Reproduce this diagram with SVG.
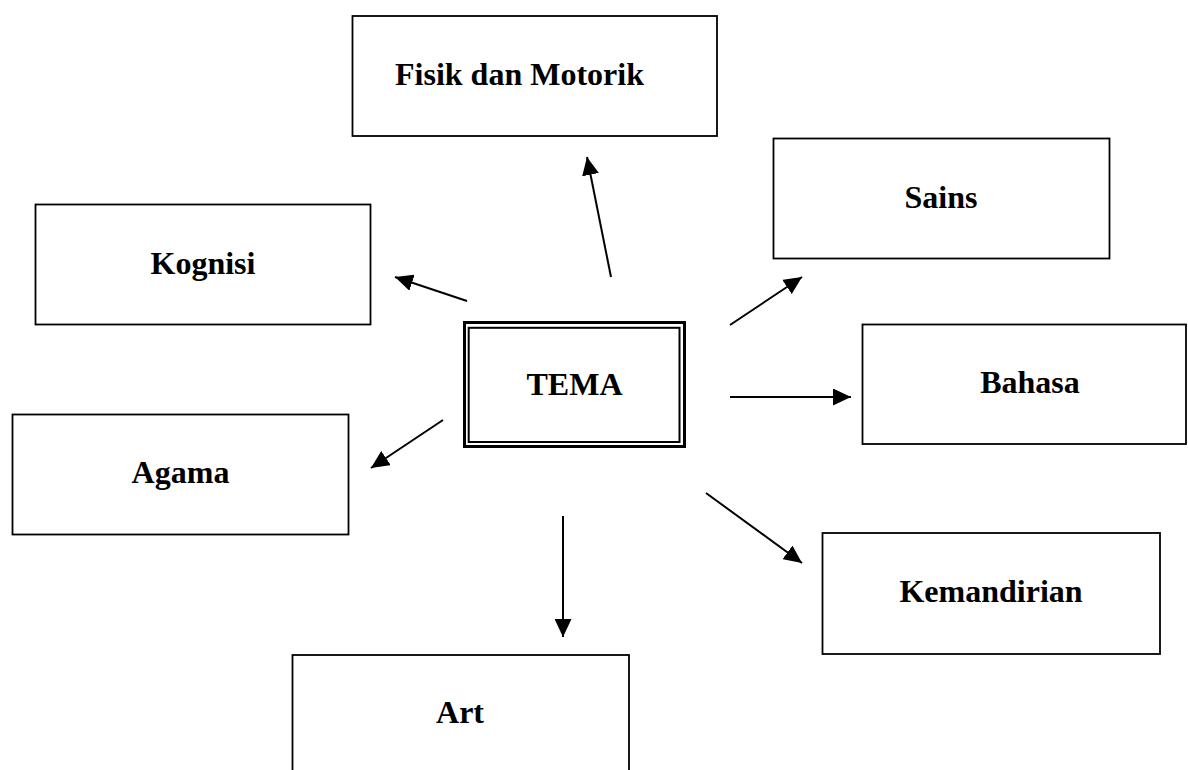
<svg xmlns="http://www.w3.org/2000/svg" width="1188" height="770" viewBox="0 0 1188 770">
<style>
.box{fill:#fff;stroke:#000;stroke-width:1.8}
.lbl{font-family:"Liberation Serif","Times New Roman",serif;font-weight:bold;font-size:32px;fill:#000;text-anchor:middle}
.con{stroke:#000;stroke-width:2;fill:none;marker-end:url(#ah)}
</style>
<defs>
<marker id="ah" markerUnits="userSpaceOnUse" markerWidth="18" markerHeight="17" refX="18" refY="8.5" orient="auto" viewBox="0 0 18 17">
<path d="M0,0 L18,8.5 L0,17 z" fill="#000"/>
</marker>
</defs>
<rect width="1188" height="770" fill="#fff"/>
<g id="n-fisik"><rect class="box" x="352.5" y="16" width="364.5" height="120"/><text class="lbl" x="519.5" y="85">Fisik dan Motorik</text></g>
<g id="n-sains"><rect class="box" x="773.5" y="138.5" width="336" height="120"/><text class="lbl" x="941" y="208">Sains</text></g>
<g id="n-kognisi"><rect class="box" x="35.5" y="204.5" width="335" height="120"/><text class="lbl" x="203" y="274">Kognisi</text></g>
<g id="n-bahasa"><rect class="box" x="862.5" y="324.5" width="323.5" height="119.5"/><text class="lbl" x="1030" y="393">Bahasa</text></g>
<g id="n-agama"><rect class="box" x="12.5" y="414.5" width="336" height="120"/><text class="lbl" x="180.5" y="483">Agama</text></g>
<g id="n-kemandirian"><rect class="box" x="822.5" y="533" width="337.5" height="121"/><text class="lbl" x="991" y="602">Kemandirian</text></g>
<g id="n-art"><rect class="box" x="292.5" y="655" width="336.5" height="130"/><text class="lbl" x="460" y="723">Art</text></g>
<g id="n-tema">
<rect x="464.5" y="322.5" width="220" height="124" fill="#fff" stroke="#000" stroke-width="3"/>
<rect x="468.7" y="327.8" width="210.8" height="114.2" fill="none" stroke="#000" stroke-width="2"/>
<text class="lbl" x="574.5" y="395">TEMA</text>
</g>
<g id="connectors">
<line class="con" x1="467" y1="301" x2="395" y2="277"/>
<line class="con" x1="611" y1="277" x2="587" y2="157"/>
<line class="con" x1="730" y1="325" x2="802" y2="277"/>
<line class="con" x1="730" y1="397" x2="851" y2="397"/>
<line class="con" x1="706" y1="493" x2="802" y2="563"/>
<line class="con" x1="443" y1="420" x2="371" y2="468"/>
<line class="con" x1="563" y1="516" x2="563" y2="637"/>
</g>
</svg>
